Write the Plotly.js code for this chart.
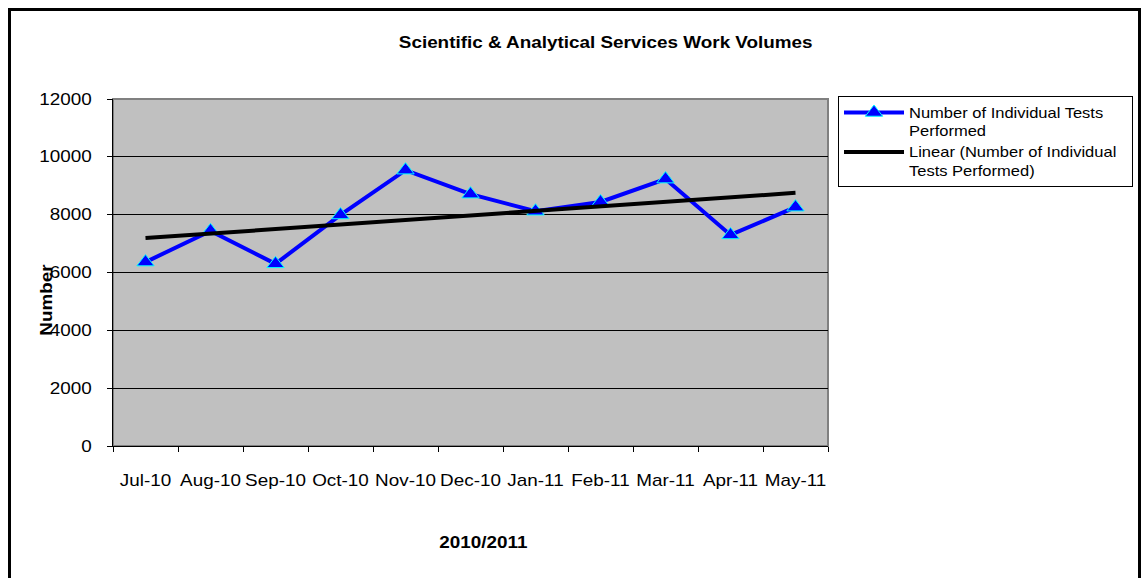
<!DOCTYPE html>
<html><head><meta charset="utf-8">
<script src="https://cdn.plot.ly/plotly-3.0.1.min.js"></script>
<style>
html,body{margin:0;padding:0;background:#fff;overflow:hidden;}
#wrap{position:relative;width:1145px;height:578px;}
#chart{position:absolute;left:0;top:0;width:1145px;height:578px;}
#frame{position:absolute;left:8px;top:8px;width:1127px;height:620px;border:3px solid #000;pointer-events:none;}
</style></head>
<body>
<div id="wrap"><div id="chart"></div><div id="frame"></div></div>
<script>
var months = ["Jul-10","Aug-10","Sep-10","Oct-10","Nov-10","Dec-10","Jan-11","Feb-11","Mar-11","Apr-11","May-11"];
var tests = [6360, 7440, 6300, 7990, 9540, 8710, 8120, 8440, 9230, 7300, 8260];
var yTicks = [0, 2000, 4000, 6000, 8000, 10000, 12000];

// linear trendline (least squares on index)
var n = tests.length, mx = 0, my = 0;
for (var i = 0; i < n; i++) { mx += i; my += tests[i]; }
mx /= n; my /= n;
var sxy = 0, sxx = 0;
for (var i = 0; i < n; i++) { sxy += (i - mx) * (tests[i] - my); sxx += (i - mx) * (i - mx); }
var slope = sxy / sxx, icpt = my - slope * mx;
var trend = tests.map(function(_, i){ return icpt + slope * i; });

var font = "Liberation Sans, Arial, sans-serif";
var data = [
  {x: months, y: tests, type: "scatter", mode: "lines+markers",
   name: "Number of Individual Tests<br>Performed",
   line: {color: "#0000ff", width: 4},
   marker: {symbol: "triangle-up", size: 15, color: "#0000ff", line: {color: "#00ffff", width: 1}}},
  {x: months, y: trend, type: "scatter", mode: "lines",
   name: "Linear (Number of Individual<br>Tests Performed)",
   line: {color: "#000000", width: 4}}
];
var layout = {
  width: 1145, height: 578,
  margin: {l: 113, r: 317, t: 99, b: 132},
  paper_bgcolor: "#ffffff", plot_bgcolor: "#c0c0c0",
  font: {family: font, size: 16, color: "#000"},
  title: {text: "<b>Scientific & Analytical Services Work Volumes</b>", x: 0.529, xanchor: "center", y: 0.927, yanchor: "middle", font: {size: 16, family: font}},
  showlegend: true,
  legend: {x: 1.014, xanchor: "left", y: 1.009, yanchor: "top", bgcolor: "#fff", bordercolor: "#000", borderwidth: 1,
           font: {size: 14, family: font}, tracegroupgap: 6, itemwidth: 60, valign: "top"},
  xaxis: {type: "category", range: [-0.5, 10.5], tickson: "boundaries", ticks: "outside", ticklen: 5, tickcolor: "#000",
          showline: true, linecolor: "#000", linewidth: 1, showgrid: false, zeroline: false,
          ticklabelstandoff: 20, tickfont: {size: 16}, fixedrange: true},
  yaxis: {range: [0, 12000], tickvals: yTicks, ticktext: yTicks.map(String), ticks: "outside", ticklen: 5,
          tickcolor: "#000", showline: true, linecolor: "#000", linewidth: 1,
          showgrid: true, gridcolor: "#000", gridwidth: 1, zeroline: false, ticklabelstandoff: 12, tickfont: {size: 16}},
  shapes: [{type: "rect", xref: "paper", yref: "paper", x0: 0, x1: 1, y0: 0, y1: 1, line: {color: "#808080", width: 2}, layer: "below"}],
  annotations: [
    {text: "<b>Number</b>", xref: "paper", yref: "paper", x: -0.0937, y: 0.42, textangle: -90, showarrow: false,
     xanchor: "center", yanchor: "middle", font: {size: 16, family: font}},
    {text: "<b>2010/2011</b>", xref: "paper", yref: "paper", x: 0.5175, y: -0.277, showarrow: false,
     xanchor: "center", yanchor: "middle", font: {size: 16, family: font}}
  ]
};

// widen glyphs horizontally like the original rendering
function stretchText(gd, s) {
  gd.querySelectorAll("svg text").forEach(function(t) {
    var x = parseFloat(t.getAttribute("x")) || 0;
    var tr = t.getAttribute("transform") || "";
    t.setAttribute("transform", tr + " translate(" + x + ",0) scale(" + s + ",1) translate(" + (-x) + ",0)");
  });
  var bg = gd.querySelector(".legend rect.bg");
  if (bg) bg.setAttribute("width", 294);
  gd.querySelectorAll("clipPath").forEach(function(cp) {
    if (/legend/.test(cp.id)) cp.querySelectorAll("rect").forEach(function(r){ r.setAttribute("width", 300); });
  });
}
var gd = document.getElementById("chart");
Plotly.newPlot(gd, data, layout, {displayModeBar: false, staticPlot: true}).then(function(){ stretchText(gd, 1.18); });
</script>
</body></html>
